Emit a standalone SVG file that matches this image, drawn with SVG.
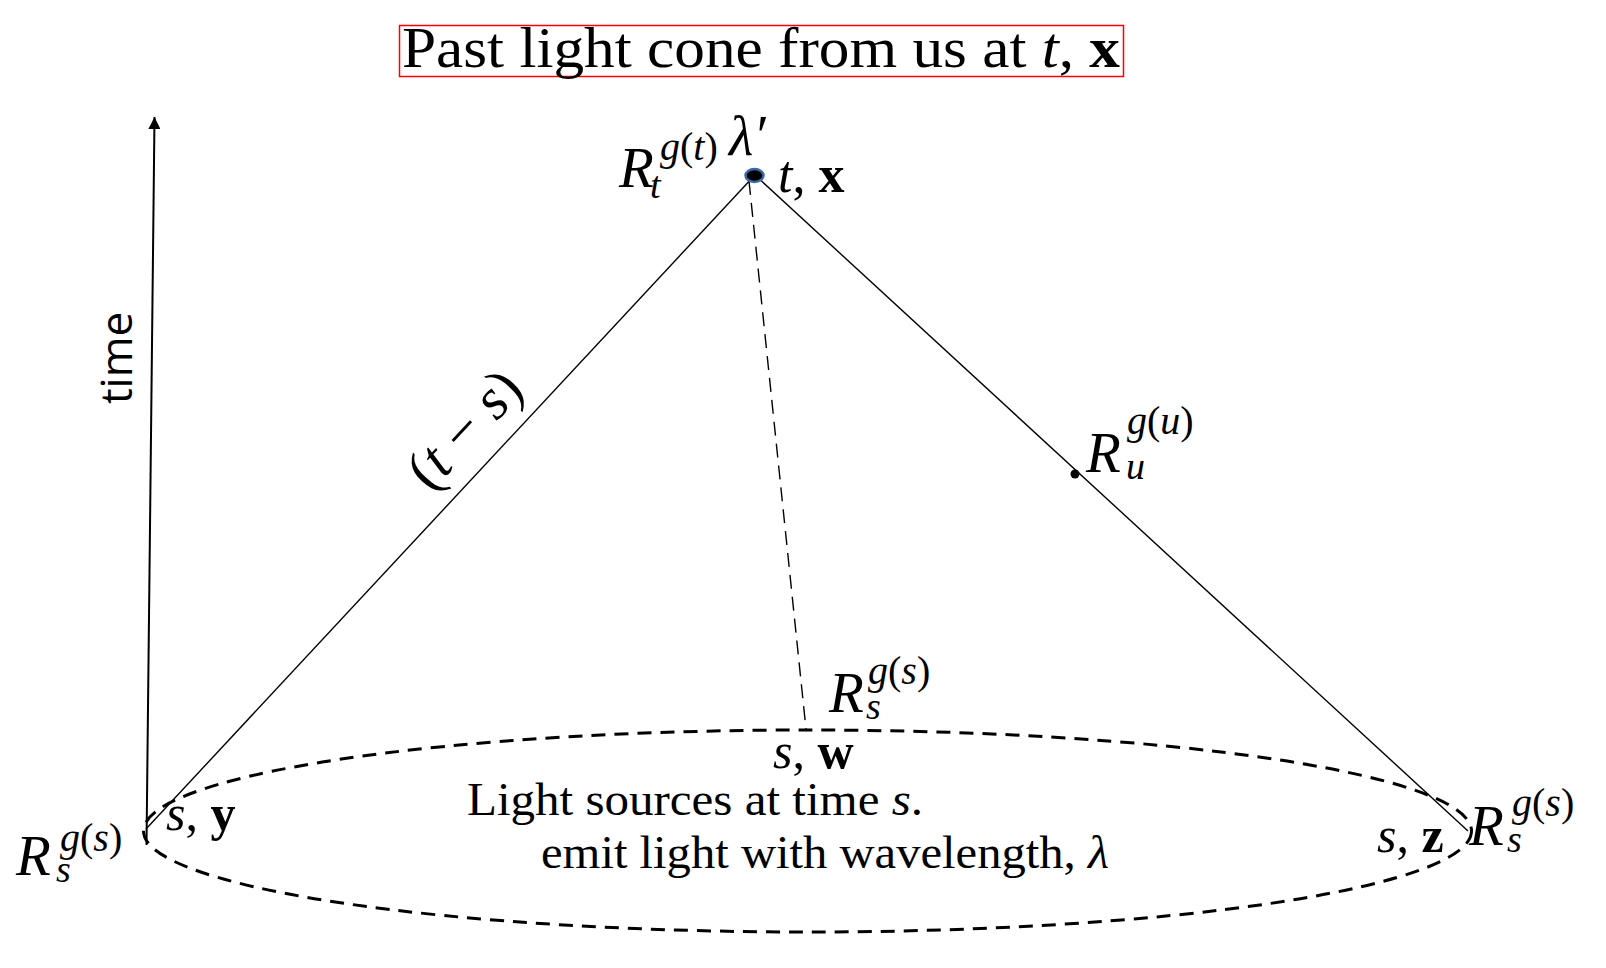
<svg xmlns="http://www.w3.org/2000/svg" width="1606" height="968" viewBox="0 0 1606 968">
<style>
.m{font-family:"Liberation Serif","DejaVu Serif",serif;fill:#000}
.i{font-style:italic}
.b{font-weight:bold}
.ln{stroke:#000;stroke-width:1.4;fill:none}
</style>
<defs>
<marker id="arr" markerWidth="12" markerHeight="12" refX="10" refY="5" orient="auto" markerUnits="userSpaceOnUse" viewBox="0 0 10 10">
<path d="M0,0 L10,5 L0,10 z" fill="#000"/>
</marker>
</defs>
<rect width="1606" height="968" fill="#fff"/>
<g id="title">
<rect x="399.5" y="25.5" width="724" height="51" fill="none" stroke="#f00" stroke-width="1.5"/>
<text class="m" x="402" y="67" font-size="58" textLength="718" lengthAdjust="spacingAndGlyphs">Past light cone from us at <tspan class="i">t</tspan>, <tspan class="b">x</tspan></text>
</g>
<g id="connectors">
<line x1="146.5" y1="845" x2="154.5" y2="117" stroke="#000" stroke-width="2" marker-end="url(#arr)"/>
<line class="ln" x1="754" y1="176" x2="146" y2="829"/>
<line class="ln" x1="756" y1="176" x2="1468" y2="831"/>
<line class="ln" x1="749" y1="181" x2="806" y2="729" stroke-dasharray="14 8"/>
</g>
<g id="time-label">
<text x="0" y="0" transform="translate(132,358) rotate(-90)" font-family="Open Sans,DejaVu Sans,sans-serif" font-size="44" text-anchor="middle">time</text>
</g>
<g id="light-sources">
<ellipse cx="807.5" cy="831" rx="664" ry="101" fill="none" stroke="#000" stroke-width="3" stroke-dasharray="14 9"/>
<text class="m" x="467" y="815" font-size="47" textLength="456" lengthAdjust="spacingAndGlyphs">Light sources at time <tspan class="i">s</tspan>.</text>
<text class="m" x="541" y="868" font-size="47" textLength="568" lengthAdjust="spacingAndGlyphs">emit light with wavelength, <tspan class="i">λ</tspan></text>
</g>
<g id="apex">
<ellipse cx="754.5" cy="175.5" rx="9" ry="6.5" fill="#000" stroke="#3b6aa8" stroke-width="2.5"/>
<text class="m"><tspan class="i" x="619" y="187" font-size="57">R</tspan><tspan class="i" x="650" y="198" font-size="38">t</tspan><tspan x="660" y="160" font-size="40"><tspan class="i">g</tspan>(<tspan class="i">t</tspan>)</tspan><tspan class="i" x="729" y="155" font-size="56">λ′</tspan></text>
<text class="m" x="778" y="192" font-size="52"><tspan class="i">t</tspan>, <tspan class="b">x</tspan></text>
</g>
<g id="point-u">
<circle cx="1075" cy="474" r="4.5" fill="#000"/>
<text class="m"><tspan class="i" x="1086" y="472" font-size="57">R</tspan><tspan class="i" x="1126" y="479" font-size="38">u</tspan><tspan x="1127" y="434" font-size="40"><tspan class="i">g</tspan>(<tspan class="i">u</tspan>)</tspan></text>
</g>
<g id="point-w">
<text class="m"><tspan class="i" x="829" y="712" font-size="57">R</tspan><tspan class="i" x="866" y="719" font-size="38">s</tspan><tspan x="868" y="684" font-size="40"><tspan class="i">g</tspan>(<tspan class="i">s</tspan>)</tspan></text>
<text class="m" x="773" y="768" font-size="50"><tspan class="i">s</tspan>, <tspan class="b">w</tspan></text>
</g>
<g id="point-y">
<text class="m"><tspan class="i" x="16" y="875" font-size="57">R</tspan><tspan class="i" x="56" y="882" font-size="38">s</tspan><tspan x="60" y="851" font-size="40"><tspan class="i">g</tspan>(<tspan class="i">s</tspan>)</tspan></text>
<text class="m" x="166" y="830" font-size="50"><tspan class="i">s</tspan>, <tspan class="b">y</tspan></text>
</g>
<g id="point-z">
<text class="m"><tspan class="i" x="1469" y="845" font-size="57">R</tspan><tspan class="i" x="1507" y="852" font-size="38">s</tspan><tspan x="1512" y="816" font-size="40"><tspan class="i">g</tspan>(<tspan class="i">s</tspan>)</tspan></text>
<text class="m" x="1377" y="852" font-size="50"><tspan class="i">s</tspan>, <tspan class="b">z</tspan></text>
</g>
<g id="edge-label">
<text class="m" transform="translate(478,442) rotate(-47)" font-size="58" text-anchor="middle">(<tspan class="i">t</tspan> − <tspan class="i">s</tspan>)</text>
</g>
</svg>
